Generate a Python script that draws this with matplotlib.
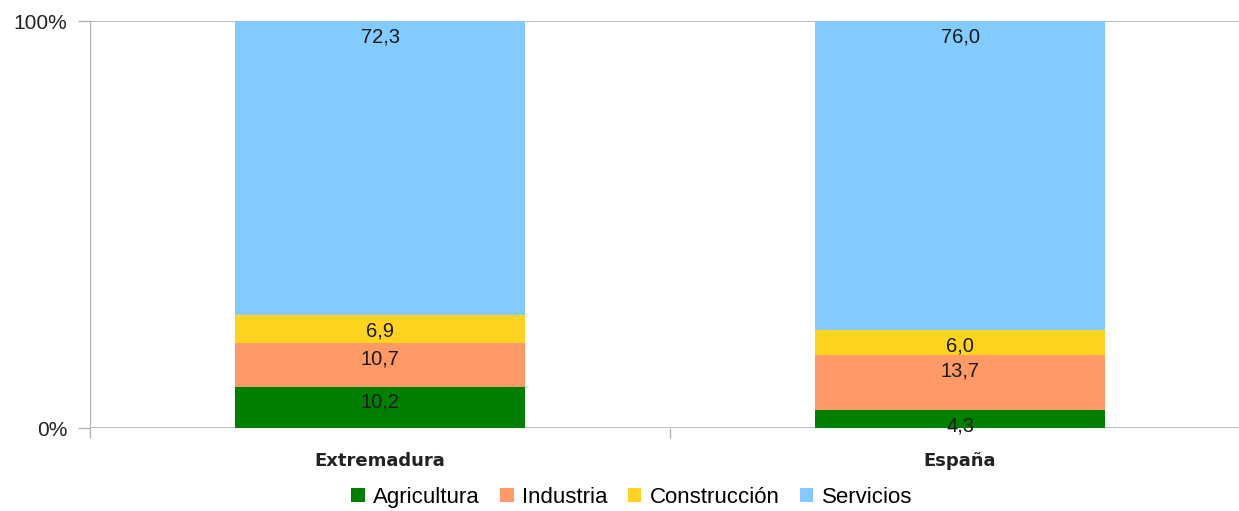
import numpy as np
import matplotlib.pyplot as plt
from matplotlib.patches import Patch

plt.rcParams['font.family'] = ['Liberation Sans', 'DejaVu Sans']

regions = ['Extremadura', 'España']
sectors = ['Agricultura', 'Industria', 'Construcción', 'Servicios']
values = {
    'Agricultura': [10.2, 4.3],
    'Industria': [10.7, 13.7],
    'Construcción': [6.9, 6.0],
    'Servicios': [72.3, 76.0],
}
colors = ['#008000', '#ff9966', '#ffd320', '#83caff']
yticks = [0, 100]
yticklabels = ['0%', '100%']

fig = plt.figure(figsize=(12.39, 5.11), dpi=100)
ax = fig.add_axes([90 / 1239, 83 / 511, 1160 / 1239, 407 / 511])

x = np.arange(len(regions))
totals = np.sum([values[s] for s in sectors], axis=0)
bottom = np.zeros(len(regions))
for sec, col in zip(sectors, colors):
    v = np.array(values[sec])
    pct = v / totals * 100
    ax.bar(x, pct, 0.5, bottom=bottom, color=col, zorder=3)
    # labels sit a fixed distance below each segment's top edge
    for xi, top, raw in zip(x, bottom + pct, v):
        lab = f'{raw:.1f}'.replace('.', ',')
        ax.text(xi, top - 3.9, lab, ha='center', va='center', fontsize=14.5,
                color='#1a1a1a', zorder=4)
    bottom += pct

ax.set_xlim(-0.5, 1.5)
ax.set_ylim(0, 100)
ax.set_yticks(yticks)
ax.set_yticklabels(yticklabels, fontsize=15, color='#222222')
ax.set_xticks([-0.5, 0.5, 1.5])
ax.set_xticklabels([])
ax.set_xticks(x, minor=True)
ax.set_xticklabels(regions, minor=True, fontsize=13, fontweight='bold',
                   color='#222222', family='DejaVu Sans')
ax.tick_params(axis='x', which='major', length=7, color='#b3b3b3', width=1)
ax.tick_params(axis='x', which='minor', length=0, pad=17)
ax.tick_params(axis='y', length=8.5, color='#b3b3b3', width=1, pad=8)
ax.grid(axis='y', color='#b3b3b3', linewidth=1.2, zorder=0)
for s in ['top', 'right', 'bottom']:
    ax.spines[s].set_visible(False)
ax.spines['left'].set_color('#b3b3b3')

handles = [Patch(facecolor=c, edgecolor='none') for c in colors]
fig.legend(handles, sectors, loc='center', bbox_to_anchor=(0.51, 0.026),
           ncol=4, frameon=False, fontsize=16, handlelength=0.6, handleheight=0.6,
           handletextpad=0.4, columnspacing=0.9, borderpad=0.1)

fig.savefig('out.png', dpi=100)
